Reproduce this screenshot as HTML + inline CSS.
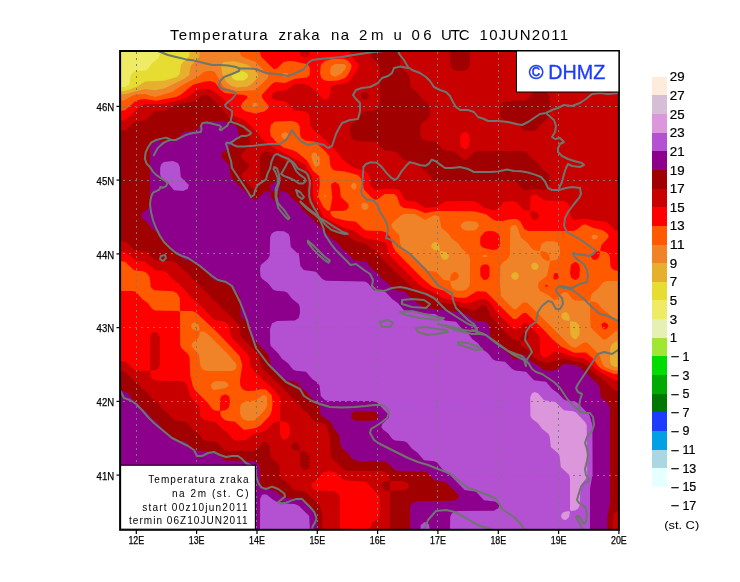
<!DOCTYPE html>
<html><head><meta charset="utf-8"><title>Temperatura zraka na 2m</title><style>
html,body{margin:0;padding:0;background:#fff;overflow:hidden;}
svg{display:block;}
text{font-family:"Liberation Sans",sans-serif;fill:#000;}
.lg text{stroke:#000;stroke-width:0.2;}
</style></head><body>
<svg width="740" height="582" viewBox="0 0 740 582">
<rect width="740" height="582" fill="#fff"/>
<defs><clipPath id="pc"><rect x="120" y="51" width="499" height="479"/></clipPath></defs>
<g clip-path="url(#pc)">
<rect x="120" y="51" width="499" height="478" fill="#f0eb64"/>
<path fill="#e6dc32" fill-rule="evenodd" d="M160 49 621 49 621 531 118 531 118 87.4 125 87 128.8 85 129.8 83 130.4 76 133 72.4 136 71.2 145 70.6 147.7 69 152 63.2 158.6 58 159.8 55Z"/>
<path fill="#e6af2d" fill-rule="evenodd" d="M190 49 621 49 621 531 118 531 118 91 125 90.7 130.8 89 138.2 86 145 81.4 164 80.8 177 77.1 179.7 74 181 64.6 189.2 56ZM234 71.8 231.6 74 231.3 76 233 78.7 236 80.6 244 80.6 248.2 77 247.6 74 244 71.4 238 71Z"/>
<path fill="#f08228" fill-rule="evenodd" d="M200 49 621 49 621 341 616 341.4 612.2 344 610.4 347 610 353 610.1 362 611.2 365 615 367 621 367.4 621 531 118 531 118 94.5 125 94.2 145 88.9 155 90.3 164 88.5 183.9 79 189.2 75 190.8 66 199.2 57ZM224 61.8 221.5 64 220.8 66 222.9 76 226.3 82 231.3 86 237 87.4 247 86.8 251.9 84 258.2 77 258.2 75 256.9 73 250.8 67 247 64.5 234 61.2ZM435 242 432 243.5 431.1 247 434 250.1 439 250.9 439.9 250 439.1 245 437 242.6ZM441 251.1 440.1 252 440.2 254 441.5 258 444 259.9 447 259.4 448.9 257 448.4 254 446 251.9ZM515 272 512 273.5 511 276 512 278.5 515 280 517.5 279 519 276 517.5 273ZM533 262.7 531.1 265 531.6 268 534 269.9 537 269.4 538.7 267 538.3 265 536 262.7ZM565 312 562 313.5 561.1 317 564 320.1 569 320.9 569.9 320 569.1 315 567 312.6ZM571 321 570 322 570.4 335 573 338.6 576 339.2 579.6 335 579.6 326 576.2 322Z"/>
<path fill="#ff5a00" fill-rule="evenodd" d="M240 49 621 49 621 281 607 281.1 603 282.4 598 288.8 591.5 294 590 301 597 302.5 602 308.8 607.8 313 614 319.6 617 320.8 621 321 621 331 615 331.8 607 338.7 605 339.7 603 339.4 592.2 329 590.4 326 590 301 575 300.6 572 298.8 568 293.3 565 291.9 562 293.3 557 299.5 554 299.9 548.2 295 540 291 538 287 538.6 283 540 281 546.9 276 550.2 261 556 260.1 559 257.3 560 253 559.6 246 557.7 243 555 241.4 546 241.2 541.5 244 540 250.4 538 250.9 534 250.1 531.3 248 527.8 243 521 237.7 517.2 227 515 224.8 512 225.5 510.3 228 509.8 255 508 258.7 502.2 263 500.4 266 500 281 500.8 296 513 308.6 516 309.2 523 302.5 527 302.5 569.4 345 573 347.2 576 347.6 584 342.6 587 342.6 599 354.3 602.5 364 604.9 367 614 370.5 621 371 621 531 118 531 118 101 124 100.6 131.6 96 136 94.6 145 93.9 155 97 172 92.1 182.4 85 197.7 77 203 72.4 207 71.1 212 71.1 215 72.3 222.9 86 227 89.1 236 90.9 255 90.3 266.9 79 268.2 77 268.2 75 255 61.4 244.6 58 241.3 56 240.2 54ZM284 72.8 282.2 75 283 76.8 285 77.3 287.7 76 288.1 74 287.4 73ZM313 152.6 311.1 156 313.6 164 315 166.6 317.7 167 319.8 164 319.6 157 316 152.7ZM325 194.2 323.9 196 325 197.5 326.2 196ZM335 64 331 66.4 330 71 330.8 75 335 76.8 340.9 74 345 69.6 346.1 67 345.4 65 343.7 64ZM353 182.8 351.1 185 351.1 187 353 189.3 355 189.4 356.2 188 356.4 185 355 182.9ZM363 202.7 361.1 205 361.6 208 364 209.9 367 209.4 368.7 207 368.3 205 366 202.7ZM405 213.8 401 215.6 392.3 223 391.3 225 392.3 228 399.2 235 400.2 244 402 247.7 424 269.6 427 270.8 436 271.8 444 280.1 450 280.8 450.5 276 452 273.4 454 272.1 457 272.6 458.9 275 458 278.6 455 280.5 450.2 281 451.5 287 454 289.6 457 290.8 463 290.8 466.7 289 469.2 286 469.9 283 470 259 469.2 255 462 248.8 457.8 243 452 238.8 447.8 233 441.4 228 439.2 217 437 215.5 434 215.3 425 220.1 415 214.1ZM464 221.8 461.5 224 460.9 226 462 228.6 465 230.6 474 230.6 477 228.7 478.7 226 478 223.4 475 221.4 468 221ZM484 254.7 482.5 256 483.1 257 486.7 257 487.2 256 486.3 255ZM593 234.8 591.4 237 592.6 239 595 239.6 597.4 238 597.7 236 596.8 235ZM193 322.7 191.1 325 191.6 328 194 330.1 199 330.9 199.8 329 198.4 325 196 322.7ZM200 331.7 198.5 338 192.3 343 191.3 346 199.2 355 200.2 365 202 368.7 205 370.6 208 371 231 371 235 369.7 236.5 367 236.2 364 228 354.2 207 333.3 203 331.3ZM254 102.9 252.7 104 252.3 106 254 107.3 256.7 107 257.7 106 257.3 104 256 102.9ZM263 394.9 256 400.2 245 401.4 241.4 404 240.2 407 240.2 414 241.4 417 244 419.6 248 420.9 255 420.2 265 410.1 267 406 267.2 398 266 395.6ZM285 132 282 133.5 281.3 136 283 138.6 286 139.7 288 138.5 289 136 287.5 133ZM214 381.8 211.5 384 210.9 386 212 388.6 214 390 225 388.2 228.4 386 228 383.5 225 381.4 218 381ZM540.1 252 542 251.1 547 252.5 549.1 255 550 260 549 260.9 547 260.7 543.4 259 541 256Z"/>
<path fill="#ff0000" fill-rule="evenodd" d="M260 49 621 49 621 271 615 270.6 612 268.7 610.4 266 609.8 257 608.6 254 606 251.9 600.7 251 600.1 250 601.5 245 608.8 237 607.7 234 603 230.2 593 227.8 585 224.3 582 225.3 576.4 230 573 230.9 528 230.9 524.4 229 520 221 516 218.9 512 218.9 503 220.9 497 220.9 493 219.6 486 214.2 474 211.2 437 211 425 212.9 415 208.9 404 208 400 205.4 397 196.5 394 193.9 384.8 194 377 199.4 375 199.7 372 197.9 364.3 190 361 178.7 358 175.1 345 171.4 335 170.6 332.3 169 330.4 166 329.2 156 325 151 315 141.8 305 140.6 301.4 138 300.2 135 299.6 126 297 122.4 292 121 275 121.4 270.8 125 270 131 270.8 136 277.1 143 284 147.7 293 150.2 297 152.2 307 160.5 313 170.8 319.1 176 319.9 184 318 196 323 206.6 327 210.4 329 210.8 330 210 332.3 198 331 185 332.4 183 335 181.9 338.6 184 339.8 187 340.8 197 348 203.4 348.9 207 347 209.6 344 210.8 331 211 330.3 213 331.9 216 335.1 218 345 220.6 356 221.8 363 228.8 366 230.6 382 231.1 386 232.4 390.3 237 393.1 247 396 251.8 422 278 431.3 286 435 288.1 444 290.7 452 296.3 458 297.7 466 297.8 477 291.2 486 291.8 513 318.7 516 319.2 523 313.3 526 312.8 545 331 552.1 339 561 346.4 574 352.7 586 352.5 593 358.5 598.1 366 602 369.3 614 374 621 374.5 621 531 118 531 118 291 132 291 136 291.8 142.2 299 148 303.2 152 308.8 155 310.6 179 311 180 312 180.2 345 181.4 348 187.8 354 189.6 357 190.2 375 193.2 387 195 390.1 207.9 403 212 408.7 215 410.5 219 410.9 220 410 220.1 399 221.3 396 225 394.3 229 395.9 230 401 229 407.3 226 410.1 220.5 411 220.1 412 220.9 416 224 419.6 227 420.8 235 421.8 244 430 256 427.9 261 424.9 270 415.4 271.9 410 272.6 402 271.6 395 266 389.5 262 389 254 390.8 248 391 245 390.6 242 388.7 240.2 385 240 380 242.3 365 239.6 356 217.9 333 196 312.4 192 311.1 180 311 179.8 298 177 293.2 173 291.2 154 290.2 150.8 287 149.6 277 146.7 273 143 271.2 134 270.2 125 261.8 118 261 118 111 125 110.2 135 101.4 140 99.4 145 98.9 156 100.7 176.2 97 180.4 95 193 84.7 205 81.4 210 81 215 82.6 220.6 90 225 93.1 244 94.9 247.1 96 247.4 98 242.2 103 240.9 106 242.3 109 245 111 255 113.4 264 111.5 267.7 109 268.7 106 262.3 98 261.8 95 272 84.1 275 82.1 285 83 295 78.8 307 77.6 309.6 75 309.9 69 309.1 66 306 64 294 61.2 289 61 283.6 62 277 68.6 274 69.2 261.4 57 260.2 54ZM332 58.9 325 61 321 64.6 320 73 321.4 78 324 80.3 329 81 338 80.4 345 78.1 347.9 75 350.9 69 351.6 66 350.9 64 348 60.8 344 58.7ZM484.7 232 488 231.1 494 231.2 498.6 234 499.8 237 499.9 244 499.2 247 497 249.5 493 250 484 248 480.9 246 480.1 243 480.4 237ZM593.8 252 599 251.1 600 252 599.1 257 596 259.9 593 259.4 591.1 257 591.6 254ZM574.6 262 577 262.5 578.6 264 580 269 579.2 277 577 279.5 575 280.1 571.4 278 570 273 570.8 265ZM482 265 486 264.2 488 265 489.6 267 489.6 276 488 278.7 486 279.9 483 279.5 480.4 276 480.2 268ZM554.9 273 557.3 273 559 275.8 558.4 278 556 279.8 554 279.3 553.4 278 553.6 275ZM545.6 285 547.4 285 547.8 286 546 287 544.9 286ZM602.5 323 605 322.3 607.5 324 608.4 326 607 328.5 605 329.4 602.5 328 601.3 325Z"/>
<path fill="#c80000" fill-rule="evenodd" d="M300 49 310 49 309 56 306 57.7 302 56.6 300.2 54ZM350 49 621 49 621 231 615 230.2 608 223.2 605 221.4 596 220.8 586 218.7 574 220 570.8 217 569.6 206 567 202.4 563 201.1 545 200.6 536 194.5 533 194.8 530.6 197 530 210 529 211 523 209.5 517 202.4 512 201 504 201.8 497.7 209 494 210.2 484 207.8 476.4 202 472 201 446 201.2 436 207 425 207.8 416 201.8 406 200.4 404 198.5 400.8 192 397 189.1 388 188.4 376 190 374 189.5 370.4 185 369.8 177 367.8 173 364 170.5 354.5 168 350.9 166 342.2 159 338 153.2 328 143.1 317.8 133 312 128.7 310.2 125 309.6 116 307.7 113 304 111.2 294 110.2 287 102.4 284 101.2 275 100.2 272.4 98 271.6 96 273 93.3 276 91.4 286 90.2 295 84.1 303 83.7 309 85.6 317.8 93 323 99.5 327 99.5 329.6 96 331 86.8 334.2 85 345 83.5 349 81.8 358.5 68 358.5 64 350.6 55ZM465 131.9 463 132.5 460.8 135 460 141 460.8 146 463 148.6 465 149.4 467 148.6 469.2 146 470 141 469.2 135 467 132.5ZM201.7 89 208 88.9 214 90.9 228.8 104 233.8 116 243 119.5 246.9 122 258 133.2 262.1 139 269.1 145 305 164.2 312.2 177 313.4 198 324 217.2 343 227.5 354 230.7 364 237.9 384.6 242 386.8 245 389 253.4 391.1 257 420.4 286 445 298.4 464 303 470 302.7 481 299.1 486 299.5 490.3 303 497 313 513 328.7 516 329.2 525 322.6 528 324.1 535 331 539.6 337 540.1 353 540.8 355 543 357 547 357.2 553 352.4 556 351.8 565 353.8 574 357.2 584 358.5 588 360.7 594.5 368 599 371.4 615 380.2 621 381 621 531 370 531 371.4 524 377.8 519 379.6 516 379.9 499 378.6 495 366 481.8 345 480.6 342 478.8 336 472.4 330 471 323 472.4 317.8 479 312.3 483 311.3 486 313 488.7 316 490.6 334 491.2 338.6 494 340 499 340 531 118 531 118 361 126 361.8 133 368.8 136 370.6 150 371 150.1 338 150.8 335 153 332.5 155 331.9 157 332.5 159.8 337 160 363 159.2 367 157 369.5 150 371 151 377.2 153 379.6 156 380.8 181 381 185 382.3 187 385.6 190.6 397 199.2 406 200.4 416 203 419.6 216 422.4 222.2 429 228 433.2 232.3 439 236 440.8 246 440.2 253 434.7 266 430.4 273 423.3 278 421.1 280 422 280.1 434 282 438.6 284 439.7 286 439.3 288.6 437 289.8 434 289.8 427 288.6 424 285 421.5 280.2 421 280 399 279.2 396 273 388.4 262.1 379 251.4 368 250.2 365 249.2 356 231.4 337 230.2 334 229.6 327 227.8 324 224 321.4 216 320.6 213 318.8 198 303.1 192 298.8 188 293.2 178 283.1 172 278.8 167 272.4 164 271.2 155 270.2 145 261.8 136 260.6 125 251.8 118 251 118 121 123 120.8 126 119.6 140.9 106 144 104.3 162 103.9 181 99.7 188 97 196 90.7ZM530.1 212 532 211.1 537 212.5 538.9 215 538.4 218 536 219.9 533 219.4 530.9 217Z"/>
<path fill="#a00000" fill-rule="evenodd" d="M370 49 400 49 400.4 66 402.2 69 409.2 75 410.8 87 418 93.2 422.2 99 427.8 103 429.6 106 430 113 429.2 117 422 123.3 420.2 127 420.2 135 423 139.6 426 140.8 436 141.8 443 149.6 446 150.8 455 151.8 462 158.8 465 160.1 468 158.8 474 152.4 477 151.2 521 151 526 151.8 532.2 159 538 163.2 542.2 169 548.6 174 550 181 548.6 188 545 190.2 535 188.6 525 190.2 522 188.7 517 182.4 513 181.1 435 180.6 432 178.8 427.8 173 422 168.8 417 162.4 414 161.2 404 160.2 398 153.2 395 151.4 384 150.2 376 141.8 357 140.9 353 139.6 350.8 137 350.1 134 350.2 127 351.4 124 358 118.8 363 112.4 366 111.2 376 110.2 378.6 108 379.8 105 379.8 67 378 63.3 371 57.3ZM450 49 470 49 469.9 64 467.7 69 464 70.8 459 71 455 70.6 452 68.7 450.1 64ZM364.7 92 367.5 93 369 96 367.5 99 365 100 362 98.5 361 96 362 93.5ZM533.7 92 538 91 545 91.4 548.6 94 549.9 98 550 113 549.2 117 542 123.2 537 129.6 533 130.9 525 130.6 522 128.8 516 121.8 505 120.6 501.4 118 500.2 115 500.1 108 500.8 105 503 102.4 507 101.1 525 100.6 528 98.8ZM202.5 95 206 94.5 209 96 217.8 104 229.5 118 240.5 124 249.2 136 250 141 249.2 147 242.3 153 240.9 156 242.3 159 248.5 164 248.9 167 247 169.6 242.3 173 241.3 176 243 178.7 253 188.6 256 189.2 259.6 185 260.1 158 260.8 155 263 152.5 266 151.8 275 153.9 285 161 297 164.9 303 170.2 306.4 175 307.3 179 307.5 196 308.9 203 320.6 220 336 231.3 346 234.2 355 241 365.5 244 369.1 246 377.8 253 382.1 259 415 290.6 427 294.9 433.3 300 437 301.8 456 304.9 464 308 473 310 476.1 310 482 305.3 485 304.9 487.1 307 490.4 316 502 328.9 513 339.6 520 341 521.1 346 530 351 533.8 357 536 358.9 546 363.1 564 358.8 583 362.9 586 364.8 592.8 372 602.9 379 613 389.6 616 390.8 621 391 621 511 616 511.6 613.3 515 612.6 531 390 531 390 492 391 491 406 490.2 408.9 487 407.7 483 403 481.1 391 481 390 481.5 390 490 389 490.9 387 490.7 383.5 489 381.3 486 381.6 484 383.8 482 389.7 481 389.1 476 385 471.8 381 471 348 470.9 343.3 469 330.8 457 329.8 437 326.7 426 324.5 424 316 421.5 312.2 419 308 413.2 302.2 409 298 403.2 292.2 399 287.9 393 262.2 368 260.4 365 259.8 358 258.6 355 241.4 337 240.2 334 239.2 326 228 313.1 222.2 309 218 303.2 212.2 299 208 293.2 202.2 289 198 283.2 192.2 279 188 273.2 182.2 269 176 262.4 172 261.1 156 260.6 153 258.8 146 251.8 136 250.6 133 248.8 126 241.8 118 241 118 131 126 130.2 133 123.2 136 121.4 146 120.2 154 111.8 165 110.6 174.4 105 193 101.8 196.7 100ZM523.7 333 527 333.5 528.7 337 526 340.1 521 341 520.1 340 520.5 337ZM118 372 118 371 123 371.2 127 373.2 132 378.9 138 383.2 142.2 389 148 393.2 152.2 399 158 403.2 162.2 409 168 413.2 173 419.6 176 420.8 186.3 422 192.2 429 198 433.2 203 439.6 206 440.8 216 441.8 225 450.2 229 451 254 450.8 257.7 449 263 442.5 265 441.9 267.6 443 269.8 447 270.8 457 279.2 465 280.2 475 282 478.7 287.8 483 293.7 490 303 491.2 306 492.4 319.4 505 322.4 515 322.6 531 118 531ZM293.6 443 296 442.3 298.5 444 299.8 448 299.9 450 299 450.9 294 450.1 291.6 448 291.3 446ZM300 452 301 451 306 451.9 309.6 456 309.6 466 308 468.7 306 469.9 303 469.5 300.4 466Z"/>
<path fill="#8c008c" fill-rule="evenodd" d="M203.7 122 208 121 223 121.2 234.7 125 237 127 239.2 135 238.5 138 232 143.2 227.8 149 222.3 153 221.1 157 229.2 165 230.2 175 231.4 178 253 199.5 257 199.5 264 192.5 269 191.1 270 191.4 271.5 198 274 199.9 276 199.9 279.1 197 280 191.2 286 191.9 288.7 194 292.2 199 298 203.2 302.1 209 332 238.9 338 243.2 342.2 249 348 253.2 352.3 259 355 260.6 364 261.2 367 262.4 372.2 269 378 273.2 382.2 279 387.8 283 394.7 290 405 291.8 413 299.7 424 307.8 455 311.4 467 314.7 475 320.6 485 321.8 487.8 324 489.6 327 490.2 335 491.4 338 497.8 343 502 348.8 507.8 353 514 359.3 517 359.4 521.9 355 525 354.7 531 361.8 537.2 365 543 369.7 547 370.9 556 370.2 562 365.2 565 364.1 575.6 365 580.9 368 597 383.2 599.6 387 600.8 397 608 403.3 609.9 408 610 503 607.5 516 607.4 531 410 531 410.1 508 410.8 505 413 502.4 418 501 454 500.8 458.4 498 458.7 496 457.7 494 446 482.4 443 481.2 434 480.2 428 473.2 425 471.4 397 470.8 394 469.6 388 463.2 385 461.4 357 460.9 352.3 459 348 453.2 341 447.3 339.2 435 334 428.7 330.8 422 320.6 415 319.6 407 317.8 404 312.1 399 307.8 393 302 388.8 297 382.4 294 381.2 285 380.2 271.4 367 268.6 355 251.4 337 250.2 334 249.2 325 240.8 316 239.8 297 238 293.3 232.2 289 226.3 282 216 280.8 213 279.6 207.8 273 202 268.8 197 262.4 184 259.6 177.8 253 172 248.8 167.8 243 162 238.8 157.8 233 152 228.8 147.8 223 141.5 218 141.5 214 148 208.7 149.8 205 150 149 151.4 144 156 141.2 176 140.2 184 131.8 194 130.8 197 129.6ZM354 411.8 351.5 414 351.1 417 353 419.6 356 420.8 373 420.8 376.7 419 378.4 416 376.7 413 373 411.2 358 411ZM274.7 182 277 182.6 279.1 185 280 190 279 191 271 191 270.1 190 271 184.8ZM118 392 118 391 123 391.1 127.7 393 132 398.8 137.8 403 142 408.8 147.8 413 152 418.8 157.8 423 162 428.8 167.8 433 174 440.2 186 441.8 192 448.8 195 450.6 214 451.4 225 460.6 253 461.1 257 462.4 259.8 467 260.1 483 261 486.1 264 488 275 491 284 497.8 299 499.1 305.8 502 313.9 510 316.5 514 317.4 518 317.4 531 118 531Z"/>
<path fill="#b450d2" fill-rule="evenodd" d="M163.7 162 173 161.1 178 163.3 179.8 167 180.8 177 188.9 185 187.7 189 183 190.9 174 190.2 167.8 183 162 178.7 160.2 175 160.1 168 161 164.7ZM273.7 232 277 231.1 284 231.2 288.6 234 289.8 237 290.8 247 299 254.7 300.4 266 303.7 270 316 271.8 322.3 279 326 280.8 365 281.4 368 283.2 374 290.2 383 291.2 386 292.4 392.2 299 397.8 303 404 310.2 414 311.2 424 313.4 435 313.9 445 320.6 456 321.8 462.2 329 468 333.2 472.2 339 478 343.2 482.2 349 488 353.2 493 359.6 496 360.8 505 361.8 512 368.8 515 370.6 526 371.8 534 380.2 546 381.8 552.2 389 557.8 393 564 399.6 567 400.8 575 401.4 578 403.2 589.4 415 592.4 425 592.6 474 590 489 590 531 450 531 450.2 517 451.4 514 453.7 512 458 511 494 510.8 498.5 508 499.1 506 498.5 504 495 501.4 484 500.2 476 491.8 464.7 490 448 473.1 442.2 469 437 462.4 434 461.2 424 460.2 417.8 453 412 448.8 407 442.4 404 441.2 395 440.6 392.3 439 388 433.2 383 429.6 381.3 427 382.3 424 388.5 418 388.9 415 377 402.4 372 401 329 401 325 400.2 320.8 396 319.6 386 317.8 383 312.2 379 306 371.8 296 370.8 293 369.6 288 363.2 282 358.8 278 353.2 270.8 346 270.1 343 270 329 272 323.3 277 321.1 295 320.6 298.6 318 300 313 299.8 307 298.6 304 292 298.8 287.7 293 285 291.4 276 290.8 273 289.6 267.8 283 262 278.7 260.4 276 260 269 260.8 265 267.8 259 269.6 256 270.2 237 271.4 234ZM262 495 264 494.3 267 494.8 273.3 500 278 502.2 284 503.4 295 503.9 299.1 506 309.2 516 310 531 260 531 260.1 499ZM424.6 522 427 522.5 429 524.7 430 531 420 531 420.8 525Z"/>
<path fill="#dc96dc" fill-rule="evenodd" d="M534.6 392 538 393.3 544 400.2 555.3 402 564 410.2 573 411.2 576 412.4 585 421.9 586.7 425 587.2 475 586 478.6 580.4 486 579.8 505 578 508.7 575 510.5 571 511 570 510 570 479 569.2 475 560.8 467 559.6 456 557.8 453 550.8 447 549.8 437 548.6 434 542.2 429 538 423.2 532.2 419 530.4 416 530.2 397 532 393.3ZM563.8 512 569 511.1 569.9 512 569.1 517 566 519.9 563 519.4 561.1 517 561.6 514Z"/>
<g stroke="#767d76" stroke-width="1" stroke-dasharray="2 4" fill="none"><line x1="136.5" y1="52" x2="136.5" y2="530"/><line x1="196.5" y1="52" x2="196.5" y2="530"/><line x1="256.5" y1="52" x2="256.5" y2="530"/><line x1="317.5" y1="52" x2="317.5" y2="530"/><line x1="377.5" y1="52" x2="377.5" y2="530"/><line x1="437.5" y1="52" x2="437.5" y2="530"/><line x1="498.5" y1="52" x2="498.5" y2="530"/><line x1="558.5" y1="52" x2="558.5" y2="530"/><line x1="123" y1="475.5" x2="619" y2="475.5"/><line x1="123" y1="401.5" x2="619" y2="401.5"/><line x1="123" y1="327.5" x2="619" y2="327.5"/><line x1="123" y1="253.5" x2="619" y2="253.5"/><line x1="123" y1="180.5" x2="619" y2="180.5"/><line x1="123" y1="106.5" x2="619" y2="106.5"/></g>
<g stroke="#6f766f" stroke-width="2" fill="none" stroke-linejoin="round" stroke-linecap="round"><polyline points="158,51 168,55 176,57 186,59.4 194,60.6 204,63 212,65 220,65 228,65.4 236,67 239.6,68.6 248,68.6 256,69 266,73 276,74 288,76 296,73 304,69 308,63 312,60 320,59 330,58 342,57 350,55.5 360,54 370,52.6 378,51.5 385,51"/>
<polyline points="239.6,68.6 239,71 232,74 224,77 220,81 219,86 222,89 228,90 234,92 236,94 232,99 228,102 225,105 226,107 229,109 232,111 232,115 231,119 230.8,121.4"/>
<polyline points="229.2,143.2 230.8,143.2 233.2,144.9 237.3,146.5 243.8,146.5 253.5,145.7 260,144.9 270,144 280,144 286,140 290,134 292,130 296,136 302,142 308,145 316,143 324,145 328,148 332,146 334,140 336,134 338,130 342,123 350,120 358,119 360,111 360,103 356,99 353,95 356,90 362,88 370,87 378,83 382,78 388,76 392,73 394,68 400,66.6 408,68"/>
<polyline points="398,51 400,55 404,60 408,67 412,70 420,73 426,77 430,81 434,87 440,90 446,92 450,96 453,102 456,107 460,110 468,110 474,112 478,117 484,119 488,121 498,121 508,122 516,124 522,125 528,122 534,118 540,114 546,113 552,110 558,108 564,105 572,106 580,103 586,99 592,94 600,93 608,94 620,93"/>
<polyline points="547,114 554,120 556,126 555,132 552,137 555,139 560,138 564,142 560,144 558,148 558,152 562,156 568,159 574,161 582,163 584,165 580,167 572,166 568,164 566,168 564,174 562,182 559,188"/>
<polyline points="363.5,167 366,164 370.8,162.2 376.9,162.8 381.8,167 386.6,173.1 391.5,178 395.1,179.8 397.6,178 401.2,171.9 406.1,165.8 409.7,162.2 414.6,163.4 420.7,165.2 425.6,165.8 429.2,163.4 431.6,159.7 435.3,161 440.2,164.6 445,168 452,168 460,167 468,169 474,172 482,172 490,172 498,171.5 507,169.5 514,171 521,171.2 528,172.5 535,174.6 541,177 545,181.5 548,188 552,190 559,190 566,188 572,187 580,188"/>
<polyline points="580,188 581,194 579,198 574,204 568,212 565,218 564,226 567,232 576,237 584,242 592,248 596,250.4 593,254 589,256 584,255 576,254 573,253 574,256 578,260 584,264 587,270 588,276 587,282 580,284 572,288 566,287 560,286 557,288 556,291 558,294 562,298 563,304 560,309 556,309 552,302 548,301 542,306 538,312 536,322 530,326 526,332 525,340 530,348 532,352 528,358 525,362 526,366"/>
<polyline points="558,287 566,288 572,290 578,294 584,299 592,307 600,314 608,316 616,320 621,322"/>
<polyline points="621,348 612,354 604,352 598,354 594,360 590,366 586,372 582,378 578,384 576,388 578,392 582,394 580,400 579,408 580,412"/>
<polyline points="363.5,167 362.9,174.3 362.3,186.5 361.1,191.4 362.3,195 367.2,200 370,199.5 374,201 378,206 380,212 384,218 387,224 388,230 386,238 392,240 398,246 406,251 410,254 416,260 420,264 426,270 432,278 438,285 446,290 452,293 453,300 456,308 462,314 468,320 474,324 477,329 476,332"/>
<polyline points="472,330 484,334 496,342 512,354 520,358 524,360 526,366"/>
<polyline points="230.8,121.4 228.4,123 227.6,125.4 224.3,127.8 221.1,130.3 219.5,129.5 221.1,127 219.5,125.4 214.6,124.3 209.7,123 206.5,122.6 202.4,123 200.8,126.2 201.6,128.6 200.8,131.9 195.1,132.7 190.3,133.5 185.4,135.1 180.5,137.6 175.7,140 170.8,140 170,139.2 166,137.6 162.7,138.4 156.2,140 151.4,142.4 148.1,147.3 145.7,152.2 144.9,158.6 146.5,163.5 149.7,166.8 153,171.6 156.2,174.9 161,178.1 166,181.3 167.6,183 166,186.2 162.7,187.8 160.3,187 159.5,189.5 156.2,191.1 153,192.7 151.4,196 150.5,200 150,204 151,212 153,220 156,228 160,236 164,242 170,248 176,253 182,256 188,258 194,262 200,266 206,271 212,276 218,280 226,282 232,286 236,294 240,302 244,312 247,320 249,328 252,336 256,348 262,356 268,364 274,370 280,376 286,382 294,386 300,389 304,396 312,401 320,404 330,407 342,407.6 354,407 366,406 374,405 382,405 387,408 389,413 387,418 382,422 376,426 371,429 370,433 374,440 380,444 388,448 398,453 408,458 418,462 428,465 438,469 446,472 454,476 460,482 468,488 472,489 480,492 488,495 496,499 500,505 502,509 508,513 514,517 520,523 524,529"/>
<polyline points="170.8,140 167.6,140.8 164.3,142.4 161.1,144.9 157.8,148.1 155.4,152.2 153.8,155.4"/>
<polyline points="120,391 121,392 124,398 130,400 136,404 142,410 148,417 154,423 160,428 166,433 172,438 180,442 188,446 194,450 197,456 202,456 208,453 214,452 220,455 226,457 232,456 238,456 242,459 246,463 252,466 256,470 256,476 258.3,483 261.4,487.4 266,489 272,486.6 278.2,489 284.3,493.5 285,496.6 281.3,499.6 278.2,502 281.3,503.5 285.9,502.7 292,500.4 296.6,498.9 302,498.9 305.7,502.7 310.3,507.3 314.2,511.9 316.5,518 315,522.6 312.6,526.4 311.9,530"/>
<polyline points="424,530 428,520 436,511 446,510 455,512 466,518 474,523 480,526 488,528 492,530"/>
<polyline points="161,256 165,255 166,258 163,261 160,259 161,256"/>
<polyline points="230.8,121.4 234,123 237.3,123.8 240.5,125.4 243.8,127 247,129.5 250.3,131.9 251,133.5 248.6,135.1 245.4,136 241.3,136 238.9,137.6 235.7,139.2 232.4,141.6 229.2,143.2 226.8,142.4 226,144 227.6,148.9 229.2,155.4 231,161 232,168 236,174 240,180 244,186 248,192 251,197 254,195 255,190.4 257.7,184.9 261.9,182.1 266,179.4 267.4,173.9 270.1,168.4 271.5,161.5 274.2,155.3 277,153.9 281.1,156 288,158.7 292.1,161.5 294.9,164.2 297.6,168.4 301.7,170.4 305.9,172.5 307.9,175.2 309.3,179.4 310,183.5 309.2,190.5 309.2,196 310.6,201.5 313.4,207 316.1,211.1 317.5,213.9 318.9,218 321.6,223.5 323.7,229 324.4,233.1 325.7,235.9 328.5,240 331.2,244.1 335.4,249.6 339.5,253.7 343.6,257.9 347.7,262 350.5,265 356,264 364,270 370,274 373,280 372,286 376,290 384,291 392,288 400,287 406,288 416,291 426,294 434,298 440,304 446,310 452,314 460,319 468,324 474,326 477,330 472,331 464,330 456,328 448,326 438,324 448,327 456,330 464,332 472,334 480,334 486,335 492,340 500,346 508,351 516,354 522,356 529,364 532,369 536,372 542,374 548,378 554,382 560,388 564,394 568,400 572,404 576,408 580,411 584,413 590,413 593,417 594,425 592,431 587,437 585,443 587,449 588,455 587,461 585,469 586,475 589,479 588,482 584,483 581,487 579,493 577,500 579,503 584,506 586,509 587,515 586,521 584,524 581,519 578,516 576,517 579,522 583,530"/>
<polyline points="281.1,173.9 285.2,167 288,161.5 290.7,160.8 293.5,165.6 296.2,171.1 300.4,175.2 304.5,178 305.9,180.7 303.1,183.5 299,183.5 294.9,180.7 289.4,178 283.9,175.9 281.1,173.9"/>
<polyline points="274.2,167 277,168.4 278.4,172.5 279.7,178 279.1,183.5 277,189 276.3,195.9 277.7,202.7 281.1,206.9 283.9,209.6 286.6,213.7 289.4,217.9 288,219.2 285.2,216.5 281.8,212.4 278.4,208.2 277,202.7 275.6,197.2 275.6,189 277.7,183.5 277.7,178 275.6,172.5 273.6,169 274.2,167"/>
<polyline points="296,190 300,192 304,197 302,199 298,196 296,190"/>
<polyline points="300.3,201.5 306.5,207 313.4,212.5 320.2,218 327.1,222.1 335.4,227.6 342.2,231.7 347.7,233.8 345,234.2 338.1,232.4 331.2,229.7 327.1,226.2 323,222.1 314.7,214.6 306.5,208.4 301,202.9 300.3,201.5"/>
<polyline points="307.9,240.7 313.4,245.5 318.9,251 324.4,256.5 329.9,260.6 328.5,262.7 324.4,259.9 318.9,255.1 313.4,249.6 307.9,242.7 307.9,240.7"/>
<polyline points="402,300 412,299 424,300 430,304 426,308 412,307 402,304 402,300"/>
<polyline points="400,312 412,311 424,314 436,317 444,318 438,320 420,318 406,315 400,312"/>
<polyline points="380,322 388,320 393,323 390,327 382,327 380,322"/>
<polyline points="416,328 426,327 438,329 446,330 448,332 436,334 428,335 418,332 416,328"/>
<polyline points="458,342 468,343 476,346 482,349 476,350 466,347 458,344 458,342"/></g>
</g>
<rect x="120.1" y="51" width="498.8" height="478.8" fill="none" stroke="#000" stroke-width="2"/>
<g stroke="#000" stroke-width="1.2"><line x1="136.3" y1="530" x2="136.3" y2="534"/><line x1="196.6" y1="530" x2="196.6" y2="534"/><line x1="257.0" y1="530" x2="257.0" y2="534"/><line x1="317.3" y1="530" x2="317.3" y2="534"/><line x1="377.6" y1="530" x2="377.6" y2="534"/><line x1="437.9" y1="530" x2="437.9" y2="534"/><line x1="498.3" y1="530" x2="498.3" y2="534"/><line x1="558.6" y1="530" x2="558.6" y2="534"/><line x1="618.9" y1="530" x2="618.9" y2="534"/><line x1="116.5" y1="475.1" x2="120" y2="475.1"/><line x1="116.5" y1="401.4" x2="120" y2="401.4"/><line x1="116.5" y1="327.6" x2="120" y2="327.6"/><line x1="116.5" y1="253.9" x2="120" y2="253.9"/><line x1="116.5" y1="180.1" x2="120" y2="180.1"/><line x1="116.5" y1="106.4" x2="120" y2="106.4"/></g>
<g font-size="11" style="stroke:#000;stroke-width:0.25"><text x="128.4" y="544" textLength="15.8" lengthAdjust="spacingAndGlyphs">12E</text><text x="188.7" y="544" textLength="15.8" lengthAdjust="spacingAndGlyphs">13E</text><text x="249.1" y="544" textLength="15.8" lengthAdjust="spacingAndGlyphs">14E</text><text x="309.4" y="544" textLength="15.8" lengthAdjust="spacingAndGlyphs">15E</text><text x="369.7" y="544" textLength="15.8" lengthAdjust="spacingAndGlyphs">16E</text><text x="430.1" y="544" textLength="15.8" lengthAdjust="spacingAndGlyphs">17E</text><text x="490.4" y="544" textLength="15.8" lengthAdjust="spacingAndGlyphs">18E</text><text x="550.7" y="544" textLength="15.8" lengthAdjust="spacingAndGlyphs">19E</text><text x="611.0" y="544" textLength="15.8" lengthAdjust="spacingAndGlyphs">20E</text><text x="96.6" y="479.7" textLength="17.6" lengthAdjust="spacingAndGlyphs">41N</text><text x="96.6" y="406.0" textLength="17.6" lengthAdjust="spacingAndGlyphs">42N</text><text x="96.6" y="332.2" textLength="17.6" lengthAdjust="spacingAndGlyphs">43N</text><text x="96.6" y="258.5" textLength="17.6" lengthAdjust="spacingAndGlyphs">44N</text><text x="96.6" y="184.7" textLength="17.6" lengthAdjust="spacingAndGlyphs">45N</text><text x="96.6" y="111.0" textLength="17.6" lengthAdjust="spacingAndGlyphs">46N</text></g>
<g font-size="15"><text x="170" y="39.6" textLength="97.5" lengthAdjust="spacing">Temperatura</text><text x="278.5" y="39.6" textLength="41" lengthAdjust="spacing">zraka</text><text x="331" y="39.6" textLength="18" lengthAdjust="spacing">na</text><text x="359" y="39.6" textLength="24.5" lengthAdjust="spacing">2m</text><text x="393.5" y="39.6" textLength="9.5" lengthAdjust="spacing">u</text><text x="411.5" y="39.6" textLength="20" lengthAdjust="spacing">06</text><text x="441" y="39.6" textLength="28.5" lengthAdjust="spacing">UTC</text><text x="479.5" y="39.6" textLength="88.5" lengthAdjust="spacing">10JUN2011</text></g>
<rect x="516.5" y="51" width="102.4" height="41" fill="#fff" stroke="#000" stroke-width="1"/>
<text x="528.8" y="78.8" font-size="20" style="fill:#1e3cff;stroke:#1e3cff;stroke-width:0.6">©</text>
<text x="548.3" y="78.8" font-size="20" textLength="57" lengthAdjust="spacingAndGlyphs" style="fill:#1e3cff;stroke:#1e3cff;stroke-width:0.35">DHMZ</text>
<rect x="120.6" y="465.2" width="134.8" height="64" fill="#fff" stroke="#000" stroke-width="1.1"/>
<g font-size="10"><text x="148.3" y="482.9" textLength="100.2" lengthAdjust="spacing">Temperatura zraka</text><text x="172" y="497" textLength="76.5" lengthAdjust="spacing">na 2m (st. C)</text><text x="142.2" y="510.8" textLength="105.4" lengthAdjust="spacing">start 00z10jun2011</text><text x="129" y="524.3" textLength="118.6" lengthAdjust="spacing">termin 06Z10JUN2011</text></g>
<g font-size="12.5" class="lg"><rect x="652" y="77" width="15" height="18" fill="#ffebdc"/><rect x="652" y="95" width="15" height="19" fill="#d7bed7"/><rect x="652" y="114" width="15" height="19" fill="#dc96dc"/><rect x="652" y="133" width="15" height="18" fill="#b450d2"/><rect x="652" y="151" width="15" height="19" fill="#8c008c"/><rect x="652" y="170" width="15" height="19" fill="#a00000"/><rect x="652" y="189" width="15" height="18" fill="#c80000"/><rect x="652" y="207" width="15" height="19" fill="#ff0000"/><rect x="652" y="226" width="15" height="19" fill="#ff5a00"/><rect x="652" y="245" width="15" height="18" fill="#f08228"/><rect x="652" y="263" width="15" height="19" fill="#e6af2d"/><rect x="652" y="282" width="15" height="18" fill="#e6dc32"/><rect x="652" y="300" width="15" height="19" fill="#f0eb64"/><rect x="652" y="319" width="15" height="19" fill="#e6f0b4"/><rect x="652" y="338" width="15" height="18" fill="#a0e632"/><rect x="652" y="356" width="15" height="19" fill="#00dc00"/><rect x="652" y="375" width="15" height="19" fill="#00aa00"/><rect x="652" y="394" width="15" height="18" fill="#007800"/><rect x="652" y="412" width="15" height="19" fill="#1e3cff"/><rect x="652" y="431" width="15" height="19" fill="#00a0e6"/><rect x="652" y="450" width="15" height="18" fill="#aad7e1"/><rect x="652" y="468" width="15" height="19" fill="#e6ffff"/><text x="669.8" y="81.30" textLength="14.8" lengthAdjust="spacingAndGlyphs">29</text><text x="669.8" y="99.94" textLength="14.8" lengthAdjust="spacingAndGlyphs">27</text><text x="669.8" y="118.58" textLength="14.8" lengthAdjust="spacingAndGlyphs">25</text><text x="669.8" y="137.22" textLength="14.8" lengthAdjust="spacingAndGlyphs">23</text><text x="669.8" y="155.86" textLength="14.8" lengthAdjust="spacingAndGlyphs">21</text><text x="669.8" y="174.50" textLength="14.8" lengthAdjust="spacingAndGlyphs">19</text><text x="669.8" y="193.15" textLength="14.8" lengthAdjust="spacingAndGlyphs">17</text><text x="669.8" y="211.79" textLength="14.8" lengthAdjust="spacingAndGlyphs">15</text><text x="669.8" y="230.43" textLength="14.8" lengthAdjust="spacingAndGlyphs">13</text><text x="669.8" y="249.07" textLength="14.8" lengthAdjust="spacingAndGlyphs">11</text><text x="669.8" y="267.71" textLength="7.4" lengthAdjust="spacingAndGlyphs">9</text><text x="669.8" y="286.35" textLength="7.4" lengthAdjust="spacingAndGlyphs">7</text><text x="669.8" y="304.99" textLength="7.4" lengthAdjust="spacingAndGlyphs">5</text><text x="669.8" y="323.63" textLength="7.4" lengthAdjust="spacingAndGlyphs">3</text><text x="669.8" y="342.27" textLength="7.4" lengthAdjust="spacingAndGlyphs">1</text><text x="670.4" y="361.31"><tspan textLength="8.6" lengthAdjust="spacingAndGlyphs">−</tspan><tspan x="682.4" dy="-0.4">1</tspan></text><text x="670.4" y="379.95"><tspan textLength="8.6" lengthAdjust="spacingAndGlyphs">−</tspan><tspan x="682.4" dy="-0.4">3</tspan></text><text x="670.4" y="398.60"><tspan textLength="8.6" lengthAdjust="spacingAndGlyphs">−</tspan><tspan x="682.4" dy="-0.4">5</tspan></text><text x="670.4" y="417.24"><tspan textLength="8.6" lengthAdjust="spacingAndGlyphs">−</tspan><tspan x="682.4" dy="-0.4">7</tspan></text><text x="670.4" y="435.88"><tspan textLength="8.6" lengthAdjust="spacingAndGlyphs">−</tspan><tspan x="682.4" dy="-0.4">9</tspan></text><text x="670.4" y="454.52"><tspan textLength="8.6" lengthAdjust="spacingAndGlyphs">−</tspan><tspan x="682.4" dy="-0.4">11</tspan></text><text x="670.4" y="473.16"><tspan textLength="8.6" lengthAdjust="spacingAndGlyphs">−</tspan><tspan x="682.4" dy="-0.4">13</tspan></text><text x="670.4" y="491.80"><tspan textLength="8.6" lengthAdjust="spacingAndGlyphs">−</tspan><tspan x="682.4" dy="-0.4">15</tspan></text><text x="670.4" y="510.44"><tspan textLength="8.6" lengthAdjust="spacingAndGlyphs">−</tspan><tspan x="682.4" dy="-0.4">17</tspan></text></g>
<text x="664.2" y="529.2" font-size="11" textLength="35" lengthAdjust="spacingAndGlyphs">(st. C)</text>
</svg>
</body></html>
